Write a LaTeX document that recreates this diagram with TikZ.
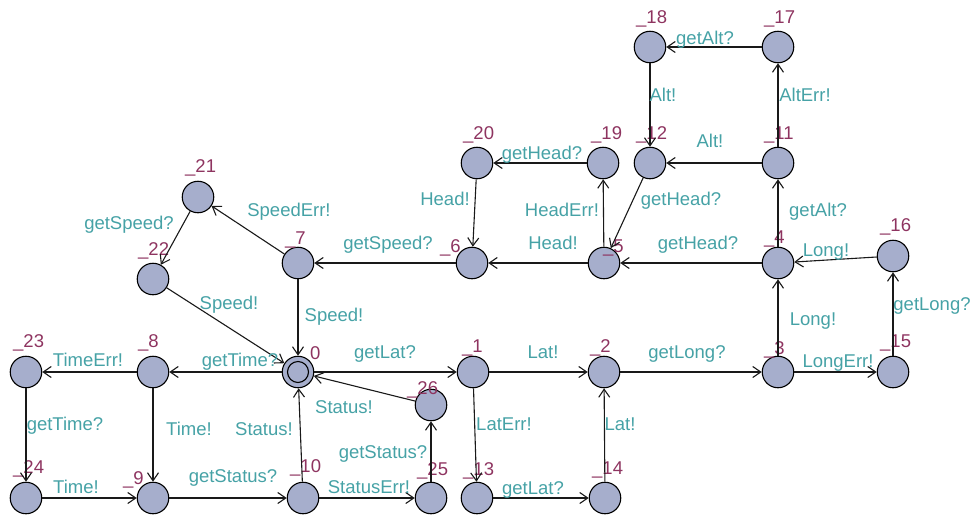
\documentclass[tikz,border=0pt]{standalone}
\usepackage{fontspec}
\setmainfont{Liberation Sans}
\usepackage{xcolor}
\usetikzlibrary{arrows.meta}

\definecolor{locfill}{RGB}{166,174,204}
\definecolor{lblteal}{RGB}{70,162,166}
\definecolor{namered}{RGB}{142,52,96}

\begin{document}
\begin{tikzpicture}[
  x=1pt, y=-1pt,
  font=\fontsize{18.5}{20}\selectfont,
  every node/.style={inner sep=0pt},
  loc/.style  ={circle, draw=black, fill=locfill, line width=1.1pt, minimum size=31.5pt},
  nm/.style   ={anchor=base west, text=namered},
  elbl/.style ={text=lblteal, text height=13pt, text depth=4pt},
  arr/.style  ={-{Straight Barb[length=8pt,width=11pt]}, draw=black!90, line width=1.1pt}
]
\useasboundingbox (0,0) rectangle (975,515);

% Locations (pixel grid, y downwards)
% initial location
\node[loc] (s0) at (298,372) {};
\draw[line width=1.1pt] (s0.center) circle[radius=10.5];

% Lat / Long row
\node[loc] (s1)  at (473,372) {};
\node[loc] (s2)  at (604,372) {};
\node[loc] (s3)  at (778,372) {};
\node[loc] (s15) at (893,372) {};
\node[loc] (s13) at (477,498) {};
\node[loc] (s14) at (605,498) {};

% Head / Speed row
\node[loc] (s4)  at (778,263) {};
\node[loc] (s5)  at (604,263) {};
\node[loc] (s6)  at (472,263) {};
\node[loc] (s7)  at (298,263) {};
\node[loc] (s16) at (893,256) {};
\node[loc] (s19) at (603,163) {};
\node[loc] (s20) at (477,163) {};

% Alt block
\node[loc] (s11) at (778,163) {};
\node[loc] (s12) at (650,163) {};
\node[loc] (s17) at (778,47)  {};
\node[loc] (s18) at (650,47)  {};

% Speed error branch
\node[loc] (s21) at (198,197) {};
\node[loc] (s22) at (153,279) {};

% Time / Status rows
\node[loc] (s8)  at (153,372) {};
\node[loc] (s9)  at (153,498) {};
\node[loc] (s10) at (303,498) {};
\node[loc] (s23) at (26,372)  {};
\node[loc] (s24) at (26,498)  {};
\node[loc] (s25) at (431,498) {};
\node[loc] (s26) at (431,405) {};

% Location names
\node[nm] (n0)  at ([shift={(12,-13)}]s0.center)   {0};
\node[nm] (n1)  at ([shift={(-11,-20)}]s1.center)  {\_1};
\node[nm] (n2)  at ([shift={(-14,-20)}]s2.center)  {\_2};
\node[nm] (n3)  at ([shift={(-14,-18)}]s3.center)  {\_3};
\node[nm] (n4)  at ([shift={(-14,-20)}]s4.center)  {\_4};
\node[nm] (n5)  at ([shift={(-1,-11)}]s5.center)   {\_5};
\node[nm] (n6)  at ([shift={(-32,-11)}]s6.center)  {\_6};
\node[nm] (n7)  at ([shift={(-13,-19)}]s7.center)  {\_7};
\node[nm] (n8)  at ([shift={(-15,-25)}]s8.center)  {\_8};
\node[nm] (n9)  at ([shift={(-30,-14)}]s9.center)  {\_9};
\node[nm] (n10) at ([shift={(-13,-26)}]s10.center) {\_10};
\node[nm] (n11) at ([shift={(-14,-24)}]s11.center) {\_11};
\node[nm] (n12) at ([shift={(-14,-24)}]s12.center) {\_12};
\node[nm] (n13) at ([shift={(-14,-23)}]s13.center) {\_13};
\node[nm] (n14) at ([shift={(-13,-24)}]s14.center) {\_14};
\node[nm] (n15) at ([shift={(-13,-25)}]s15.center) {\_15};
\node[nm] (n16) at ([shift={(-13,-25)}]s16.center) {\_16};
\node[nm] (n17) at ([shift={(-14,-24)}]s17.center) {\_17};
\node[nm] (n18) at ([shift={(-14,-24)}]s18.center) {\_18};
\node[nm] (n19) at ([shift={(-12,-24)}]s19.center) {\_19};
\node[nm] (n20) at ([shift={(-14,-24)}]s20.center) {\_20};
\node[nm] (n21) at ([shift={(-13,-25)}]s21.center) {\_21};
\node[nm] (n22) at ([shift={(-15,-24)}]s22.center) {\_22};
\node[nm] (n23) at ([shift={(-13,-25)}]s23.center) {\_23};
\node[nm] (n24) at ([shift={(-13,-25)}]s24.center) {\_24};
\node[nm] (n25) at ([shift={(-14,-23)}]s25.center) {\_25};
\node[nm] (n26) at ([shift={(-24,-11)}]s26.center) {\_26};

% Transitions
\draw[arr] (s0)  -- (s1);
\draw[arr] (s1)  -- (s2);
\draw[arr] (s2)  -- (s3);
\draw[arr] (s3)  -- (s15);
\draw[arr] (s15) -- (s16);
\draw[arr] (s16) -- (s4);
\draw[arr] (s3)  -- (s4);
\draw[arr] (s1)  -- (s13);
\draw[arr] (s13) -- (s14);
\draw[arr] (s14) -- (s2);
\draw[arr] (s4)  -- (s5);
\draw[arr] (s4)  -- (s11);
\draw[arr] (s11) -- (s12);
\draw[arr] (s11) -- (s17);
\draw[arr] (s17) -- (s18);
\draw[arr] (s18) -- (s12);
\draw[arr] (s12) -- (s5);
\draw[arr] (s5)  -- (s6);
\draw[arr] (s5)  -- (s19);
\draw[arr] (s19) -- (s20);
\draw[arr] (s20) -- (s6);
\draw[arr] (s6)  -- (s7);
\draw[arr] (s7)  -- (s0);
\draw[arr] (s7)  -- (s21);
\draw[arr] (s21) -- (s22);
\draw[arr] (s22) -- (s0);
\draw[arr] (s0)  -- (s8);
\draw[arr] (s8)  -- (s23);
\draw[arr] (s23) -- (s24);
\draw[arr] (s24) -- (s9);
\draw[arr] (s8)  -- (s9);
\draw[arr] (s9)  -- (s10);
\draw[arr] (s10) -- (s0);
\draw[arr] (s10) -- (s25);
\draw[arr] (s25) -- (s26);
\draw[arr] (s26) -- (s0);

% Synchronisation labels
\node[elbl] (e0-1)   at (385,354) {getLat?};
\node[elbl] (e1-2)   at (543,354) {Lat!};
\node[elbl] (e2-3)   at (687,354) {getLong?};
\node[elbl] (e3-15)  at (838,363) {LongErr!};
\node[elbl] (e15-16) at (932,306) {getLong?};
\node[elbl] (e16-4)  at (826,252) {Long!};
\node[elbl] (e3-4)   at (813,321) {Long!};
\node[elbl] (e1-13)  at (504,426) {LatErr!};
\node[elbl] (e13-14) at (533,490) {getLat?};
\node[elbl] (e14-2)  at (620,426) {Lat!};
\node[elbl] (e4-5)   at (698,245) {getHead?};
\node[elbl] (e4-11)  at (818,212) {getAlt?};
\node[elbl] (e11-12) at (710,143) {Alt!};
\node[elbl] (e11-17) at (805,97)  {AltErr!};
\node[elbl] (e17-18) at (705,40)  {getAlt?};
\node[elbl] (e18-12) at (663,97)  {Alt!};
\node[elbl] (e12-5)  at (681,201) {getHead?};
\node[elbl] (e5-6)   at (553,245) {Head!};
\node[elbl] (e5-19)  at (562,212) {HeadErr!};
\node[elbl] (e19-20) at (542,155) {getHead?};
\node[elbl] (e20-6)  at (445,201) {Head!};
\node[elbl] (e6-7)   at (388,245) {getSpeed?};
\node[elbl] (e7-0)   at (334,317) {Speed!};
\node[elbl] (e7-21)  at (289,212) {SpeedErr!};
\node[elbl] (e21-22) at (129,225) {getSpeed?};
\node[elbl] (e22-0)  at (229,305) {Speed!};
\node[elbl] (e0-8)   at (240,362) {getTime?};
\node[elbl] (e8-23)  at (88,362)  {TimeErr!};
\node[elbl] (e23-24) at (65,426)  {getTime?};
\node[elbl] (e24-9)  at (76,489)  {Time!};
\node[elbl] (e8-9)   at (189,431) {Time!};
\node[elbl] (e9-10)  at (233,478) {getStatus?};
\node[elbl] (e10-0)  at (264,431) {Status!};
\node[elbl] (e10-25) at (369,489) {StatusErr!};
\node[elbl] (e25-26) at (383,454) {getStatus?};
\node[elbl] (e26-0)  at (344,409) {Status!};
\end{tikzpicture}
\end{document}
